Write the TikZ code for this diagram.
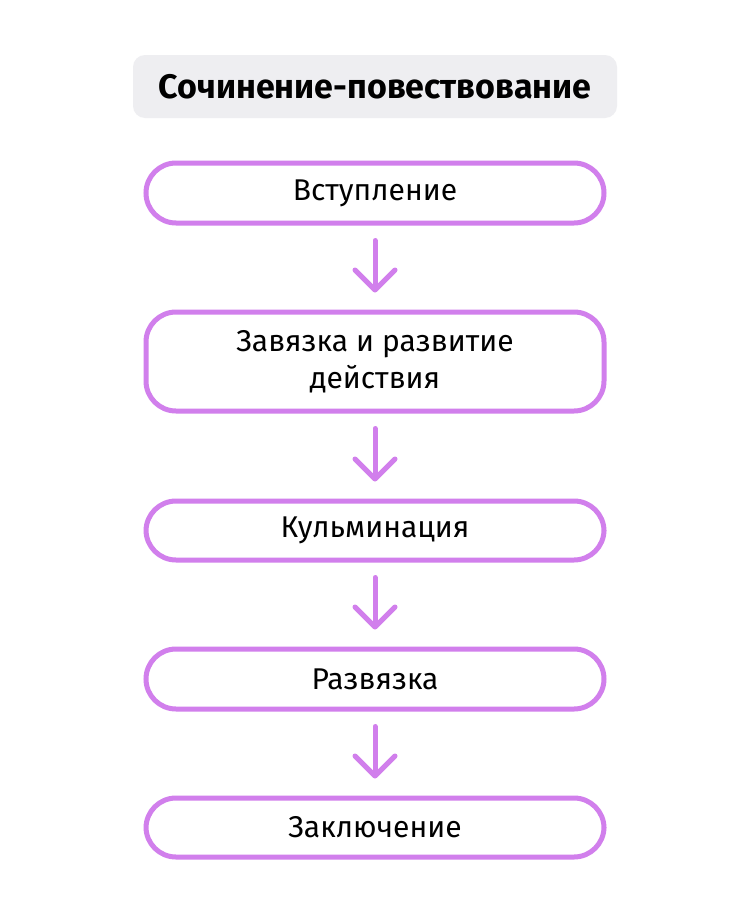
\documentclass[tikz,border=0pt]{standalone}
\usepackage{fontspec}
\setmainfont{Fira Sans}
\usetikzlibrary{arrows.meta}
\definecolor{purp}{HTML}{D17FEC}
\definecolor{titlegray}{HTML}{EEEEF1}
\begin{document}
\begin{tikzpicture}[x=1pt,y=-1pt,
  stage/.style={draw=purp,line width=5pt,rounded corners=30pt,minimum width=458pt,inner sep=0pt,align=center,font=\fontsize{30}{37}\selectfont},
  flow/.style={draw=purp,line width=5pt,line cap=round,-{Straight Barb[length=20pt,width=40pt,line cap=round,round]},shorten <=15pt,shorten >=17pt}]
\useasboundingbox (0,0) rectangle (750,918);
\fill[white] (0,0) rectangle (750,918);
\node[fill=titlegray,rounded corners=12pt,minimum width=484pt,minimum height=63pt,font=\bfseries\fontsize{34}{40}\selectfont] (t) at (375,86.5) {Сочинение-повествование};
\node[stage,minimum height=60pt] (a) at (375,193) {Вступление};
\node[stage,minimum height=99pt] (b) at (375,361.5) {Завязка и развитие\\действия};
\node[stage,minimum height=59pt] (c) at (375,530.5) {Кульминация};
\node[stage,minimum height=60pt] (d) at (375,679) {Развязка};
\node[stage,minimum height=59pt] (e) at (375,827.5) {Заключение};
\draw[flow] (a) -- (b);
\draw[flow] (b) -- (c);
\draw[flow] (c) -- (d);
\draw[flow] (d) -- (e);
\end{tikzpicture}
\end{document}
